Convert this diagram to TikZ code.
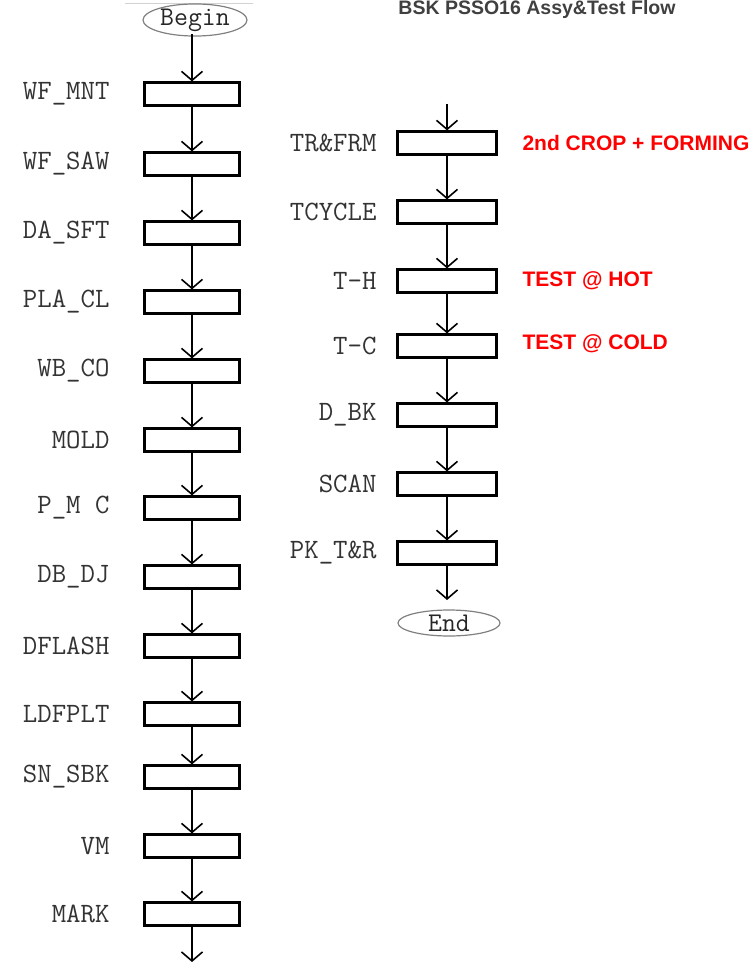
\documentclass[tikz,border=0pt]{standalone}
\usepackage{fontspec}
\setmainfont{Liberation Sans}
\usetikzlibrary{arrows.meta,shapes.geometric}
\begin{document}
\begin{tikzpicture}[x=1pt,y=-1pt,
  stepbox/.style={draw, line width=2.2pt, minimum width=95pt, minimum height=23pt, inner sep=0pt},
  lbl/.style={font=\ttfamily\fontsize{28}{28}\selectfont, anchor=east, text=black!80},
  note/.style={font=\bfseries\fontsize{21}{21}\selectfont, text=red, anchor=west},
  flow/.style={draw, line width=1.6pt, -{Straight Barb[length=9pt,width=21pt,line width=1.6pt]}},
  term/.style={ellipse, draw=gray, line width=1.2pt, minimum width=104pt, minimum height=28pt, inner sep=0pt, font=\ttfamily\fontsize{27}{27}\selectfont, text=black!85}]
\useasboundingbox (0,0) rectangle (753,968);

\node[font=\bfseries\fontsize{19.5}{19.5}\selectfont, text=black!75, anchor=base] (title) at (537,15) {BSK PSSO16 Assy\&Test Flow};
\draw[gray!35, line width=1pt] (125,4) -- (253,4);

% left column
\node[term] (begin) at (195,20) {Begin};
\foreach \n/\t/\y in {a1/WF\_MNT/94, a2/WF\_SAW/164, a3/DA\_SFT/233, a4/PLA\_CL/302, a5/WB\_CO/371, a6/MOLD/440, a7/P\_M C/508, a8/DB\_DJ/577, a9/DFLASH/646, a10/LDFPLT/714, a11/SN\_SBK/777, a12/VM/846, a13/MARK/914}{
  \node[stepbox] (\n) at (192,\y) {};
  \node[lbl] (\n l) at (113,\y) {\t};
}
\coordinate (aend) at (192,962);
\draw[flow] (192,34) -- (a1);
\foreach \p/\q in {a1/a2,a2/a3,a3/a4,a4/a5,a5/a6,a6/a7,a7/a8,a8/a9,a9/a10,a10/a11,a11/a12,a12/a13}{
  \draw[flow] (\p) -- (\q);
}
\draw[flow] (a13) -- (aend);

% right column
\coordinate (bstart) at (447,104);
\foreach \n/\t/\y in {b1/TR\&FRM/143, b2/TCYCLE/212, b3/T-H/281, b4/T-C/346, b5/D\_BK/415, b6/SCAN/484, b7/PK\_T\&R/553}{
  \node[stepbox, minimum width=99pt] (\n) at (447,\y) {};
  \node[lbl] (\n l) at (380,\y) {\t};
}
\node[term, minimum width=102pt, minimum height=26pt] (end) at (449,623) {End};
\draw[flow] (bstart) -- (b1);
\foreach \p/\q in {b1/b2,b2/b3,b3/b4,b4/b5,b5/b6,b6/b7}{
  \draw[flow] (\p) -- (\q);
}
\draw[flow] (b7) -- (447,600);

\node[note] (n1) at (519,143) {2nd CROP + FORMING};
\node[note] (n2) at (519,281) {TEST @ HOT};
\node[note] (n3) at (519,344) {TEST @ COLD};
\end{tikzpicture}
\end{document}
